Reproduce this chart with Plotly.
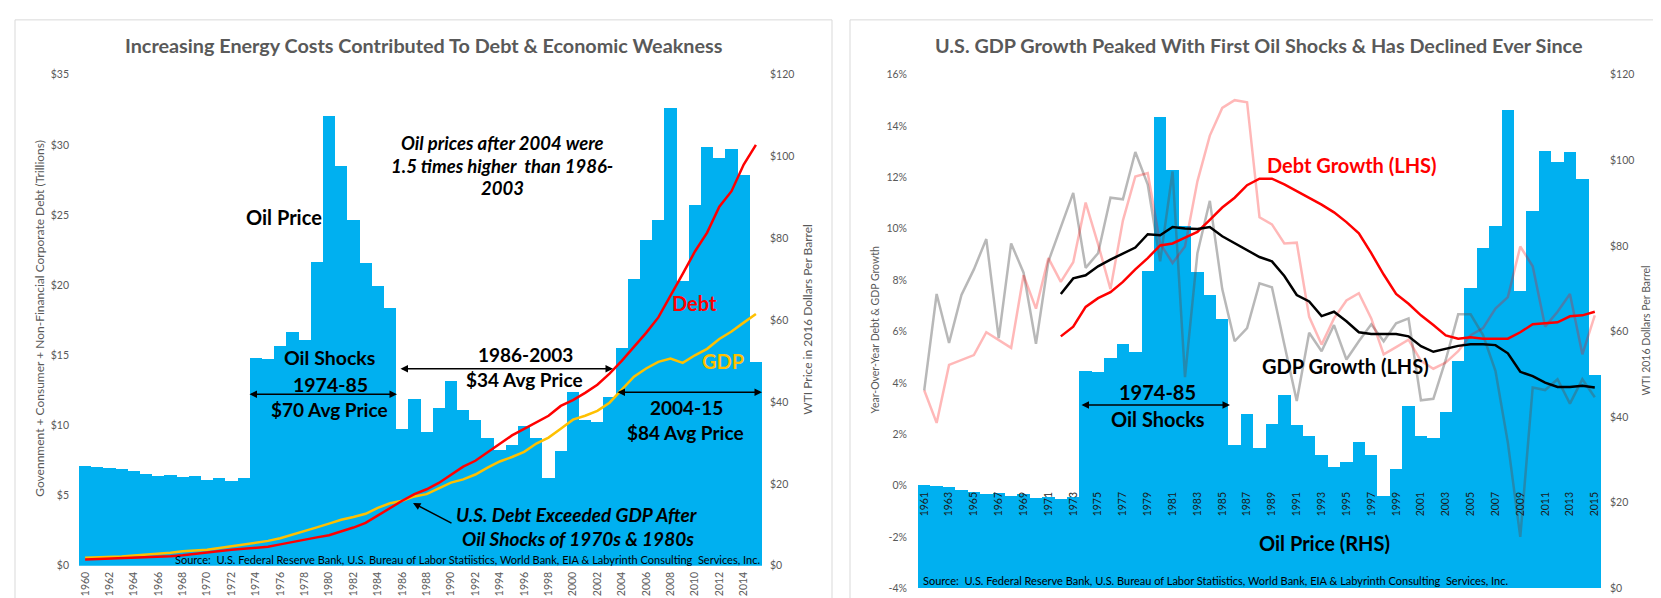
import plotly.graph_objects as go

W, H = 1661, 598

# ---------------- data ----------------
years = list(range(1960, 2016))
oil_price = [24.5, 24.2, 24.0, 23.7, 23.1, 22.5, 22.0, 22.2, 21.7, 22.0,
             21.1, 21.4, 20.8, 21.4, 50.9, 50.5, 53.8, 57.2, 55.3, 74.2,
             110.1, 97.8, 84.6, 74.0, 68.5, 63.0, 33.5, 40.8, 32.8, 38.5,
             45.2, 38.2, 35.7, 31.2, 28.3, 29.5, 34.3, 31.2, 21.6, 28.0,
             42.6, 35.7, 35.2, 41.3, 53.2, 70.2, 79.6, 84.6, 111.9, 69.6,
             88.3, 102.3, 99.6, 101.9, 95.6, 49.8]
debt_trillions = [0.44, 0.47, 0.50, 0.52, 0.54, 0.58, 0.63, 0.68, 0.75, 0.85,
                  0.96, 1.05, 1.14, 1.20, 1.26, 1.35, 1.52, 1.70, 1.87, 2.02,
                  2.17, 2.43, 2.72, 3.05, 3.58, 4.12, 4.63, 5.10, 5.45, 5.90,
                  6.45, 7.06, 7.48, 8.10, 8.71, 9.29, 9.76, 10.22, 10.69, 11.39,
                  11.81, 12.32, 12.90, 13.69, 14.60, 15.60, 16.60, 17.70, 19.20, 20.80,
                  22.40, 23.75, 25.60, 26.70, 28.60, 30.00]
gdp_trillions = [0.56, 0.58, 0.61, 0.66, 0.72, 0.78, 0.84, 0.93, 1.03, 1.08,
                 1.14, 1.26, 1.38, 1.50, 1.61, 1.77, 1.96, 2.20, 2.47, 2.73,
                 3.00, 3.28, 3.47, 3.70, 4.12, 4.45, 4.63, 4.94, 5.10, 5.52,
                 5.92, 6.15, 6.50, 6.99, 7.43, 7.75, 8.12, 8.71, 9.13, 9.76,
                 10.41, 10.69, 11.04, 11.62, 12.55, 13.48, 14.06, 14.53, 14.76, 14.46,
                 15.00, 15.46, 16.16, 16.70, 17.33, 17.95]

growth_years = list(range(1961, 2016))
oil_price_growth_panel = oil_price[1:]
gdp_growth_yoy = [3.71, 7.46, 5.55, 7.42, 8.42, 9.60, 5.74, 9.43, 8.29, 5.52,
                  8.73, 10.07, 11.40, 8.48, 9.05, 11.21, 11.15, 12.99, 11.72, 8.73,
                  12.23, 4.22, 9.05, 11.09, 7.65, 5.62, 6.13, 7.88, 7.72, 5.49,
                  3.29, 5.95, 5.23, 6.25, 4.91, 5.62, 6.28, 5.62, 6.32, 6.51,
                  3.32, 3.38, 4.90, 6.67, 6.67, 5.86, 4.47, 1.67, -2.00, 3.82,
                  3.72, 4.14, 3.19, 4.14, 3.44]
debt_growth_yoy = [3.71, 2.44, 4.70, 4.88, 5.08, 5.97, 5.67, 5.36, 8.19, 6.89,
                   8.86, 7.93, 8.70, 11.02, 9.40, 7.65, 10.32, 12.04, 12.17, 9.43,
                   8.67, 9.31, 11.85, 13.63, 14.71, 15.01, 14.93, 10.45, 10.17, 9.43,
                   9.46, 6.57, 5.49, 6.51, 7.21, 7.49, 6.51, 5.11, 5.39, 5.68,
                   4.86, 4.55, 4.79, 5.23, 5.86, 6.13, 6.89, 7.34, 9.31, 8.54,
                   6.19, 6.77, 7.46, 5.11, 6.63]
smooth_years = list(range(1972, 2016))
debt_growth_avg = [5.81, 6.19, 6.96, 7.30, 7.53, 7.93, 8.42, 8.86, 9.35, 9.43,
                   9.66, 9.88, 10.35, 10.83, 11.21, 11.70, 11.95, 11.95, 11.73, 11.47,
                   11.19, 10.94, 10.64, 10.26, 9.82, 9.05, 8.22, 7.46, 7.08, 6.63,
                   6.25, 5.85, 5.72, 5.78, 5.72, 5.72, 5.72, 5.97, 6.28, 6.32,
                   6.36, 6.59, 6.63, 6.77]
gdp_growth_avg = [7.46, 8.07, 8.19, 8.54, 8.80, 9.03, 9.27, 9.79, 9.75, 10.07,
                  10.01, 9.99, 10.07, 9.71, 9.43, 9.18, 8.90, 8.73, 8.16, 7.42,
                  7.17, 6.60, 6.77, 6.40, 5.97, 5.90, 5.90, 5.90, 5.81, 5.43,
                  5.21, 5.34, 5.44, 5.50, 5.50, 5.47, 5.15, 4.43, 4.26, 4.01,
                  3.84, 3.84, 3.89, 3.82]

left_xticks = list(range(1960, 2015, 2))
right_xticks = list(range(1961, 2016, 2))
debt_ticks = list(range(0, 36, 5))
debt_tick_labels = ["$" + str(v) for v in debt_ticks]
oil_ticks = list(range(0, 121, 20))
oil_tick_labels = ["$" + str(v) for v in oil_ticks]
pct_ticks = list(range(-4, 17, 2))
pct_tick_labels = [str(v) + "%" for v in pct_ticks]

# ---------------- styling ----------------
FONT = "Lato, Carlito, Calibri, sans-serif"
BLUE = "#00B0F0"
GRAY_TXT = "#595959"
SOURCE = ("Source:  U.S. Federal Reserve Bank, U.S. Bureau of Labor Statiistics, "
          "World Bank, EIA &amp; Labyrinth Consulting  Services, Inc.")


def px(x):
    return x / W


def py(y):
    return 1 - y / H


fig = go.Figure()

# Left panel
fig.add_trace(go.Bar(x=years, y=oil_price, width=1, marker=dict(color=BLUE, line=dict(width=0)),
                     xaxis="x", yaxis="y"))
fig.add_trace(go.Scatter(x=years, y=gdp_trillions, mode="lines",
                         line=dict(color="#FFC000", width=2.5), xaxis="x", yaxis="y2"))
fig.add_trace(go.Scatter(x=years, y=debt_trillions, mode="lines",
                         line=dict(color="#FF0000", width=2.5), xaxis="x", yaxis="y2"))

# Right panel
fig.add_trace(go.Bar(x=growth_years, y=oil_price_growth_panel, width=1,
                     marker=dict(color=BLUE, line=dict(width=0)), xaxis="x2", yaxis="y3"))
fig.add_trace(go.Scatter(x=growth_years, y=gdp_growth_yoy, mode="lines",
                         line=dict(color="rgba(85,85,85,0.42)", width=2.5), xaxis="x2", yaxis="y4"))
fig.add_trace(go.Scatter(x=growth_years, y=debt_growth_yoy, mode="lines",
                         line=dict(color="rgba(255,0,0,0.28)", width=2.5), xaxis="x2", yaxis="y4"))
fig.add_trace(go.Scatter(x=smooth_years, y=debt_growth_avg, mode="lines",
                         line=dict(color="#FF0000", width=2.5), xaxis="x2", yaxis="y4"))
fig.add_trace(go.Scatter(x=smooth_years, y=gdp_growth_avg, mode="lines",
                         line=dict(color="#000000", width=2.5), xaxis="x2", yaxis="y4"))

tickfont = dict(family=FONT, size=10.5, color=GRAY_TXT)
common = dict(showgrid=False, zeroline=False, showline=False, ticks="")

fig.update_layout(
    width=W, height=H, autosize=False,
    margin=dict(l=0, r=0, t=0, b=0),
    paper_bgcolor="white", plot_bgcolor="rgba(0,0,0,0)",
    showlegend=False, bargap=0,
    font=dict(family=FONT),
    xaxis=dict(domain=[px(71), px(754)], range=[1959.5, 2015.5], anchor="y",
               tickmode="array", tickvals=left_xticks, tickangle=-90,
               ticklabelstandoff=3, tickfont=dict(family=FONT, size=10.5, color=GRAY_TXT), **common),
    yaxis=dict(domain=[py(563), py(62)], range=[0, 120], side="right", anchor="x",
               tickmode="array", tickvals=oil_ticks, ticktext=oil_tick_labels,
               ticklabelstandoff=7, tickfont=tickfont, **common),
    yaxis2=dict(overlaying="y", range=[0, 35], side="left", anchor="x",
                tickmode="array", tickvals=debt_ticks, ticktext=debt_tick_labels,
                ticklabelstandoff=9, tickfont=tickfont, **common),
    xaxis2=dict(domain=[px(910), px(1593)], range=[1960.5, 2015.5], anchor="free",
                position=py(480.5), tickmode="array", tickvals=right_xticks, tickangle=-90,
                ticklabelstandoff=4, tickfont=dict(family=FONT, size=10.5, color="#1a1a1a"), **common),
    yaxis3=dict(domain=[py(586), py(62)], range=[0, 120], side="right", anchor="x2",
                tickmode="array", tickvals=oil_ticks, ticktext=oil_tick_labels,
                ticklabelstandoff=8, tickfont=tickfont, **common),
    yaxis4=dict(overlaying="y3", range=[-4, 16], side="left", anchor="x2",
                tickmode="array", tickvals=pct_ticks, ticktext=pct_tick_labels,
                ticklabelstandoff=10, tickfont=tickfont, **common),
)

ann = []


def txt(x, y, s, size, color="black", bold=True, italic=False, xanchor="center", angle=0):
    t = s
    if italic:
        t = "<i>" + t + "</i>"
    if bold:
        t = "<b>" + t + "</b>"
    ann.append(dict(x=px(x), y=py(y), xref="paper", yref="paper", text=t, showarrow=False,
                    xanchor=xanchor, yanchor="middle", textangle=angle,
                    font=dict(family=FONT, size=size, color=color)))


def arrow(x0, y0, x1, y1, both=True):
    ann.append(dict(x=px(x1), y=py(y1), xref="paper", yref="paper", text="",
                    showarrow=True, axref="pixel", ayref="pixel", ax=x0 - x1, ay=y0 - y1,
                    arrowhead=2, startarrowhead=2, arrowsize=1, startarrowsize=1,
                    arrowwidth=1.5, arrowcolor="black", standoff=0, startstandoff=0,
                    arrowside="end+start" if both else "end"))


# Titles
txt(416, 32, "Increasing Energy Costs Contributed To Debt &amp; Economic Weakness", 19.8, GRAY_TXT)
txt(1251, 32, "U.S. GDP Growth Peaked With First Oil Shocks &amp; Has Declined Ever Since", 19.8, GRAY_TXT)

# Axis titles
txt(32, 311, "Govennment + Consumer + Non-Financial Corporate Debt (Trillions)", 12, GRAY_TXT,
    bold=False, angle=-90)
txt(800, 312, "WTI Price in 2016 Dollars Per Barrel", 12, GRAY_TXT, bold=False, angle=-90)
txt(867, 323, "Year-Over-Year Debt &amp; GDP Growth", 10.5, GRAY_TXT, bold=False, angle=-90)
txt(1638, 323, "WTI 2016 Dollars Per Barrel", 10.5, GRAY_TXT, bold=False, angle=-90)

# Left panel labels
txt(276, 207, "Oil Price", 20)
txt(494, 132, "Oil prices after 2004 were", 18.5, italic=True)
txt(494, 155, "1.5 times higher  than 1986-", 18.5, italic=True)
txt(494, 178, "2003", 18.5, italic=True)
txt(686, 295, "Debt", 20, "#FF0000")
txt(715, 354, "GDP", 20, "#FFC000")
txt(321, 351, "Oil Shocks", 19.5)
txt(322, 378, "1974-85", 19.5)
txt(321, 404, "$70 Avg Price", 19)
txt(517, 347, "1986-2003", 19)
txt(516, 373, "$34 Avg Price", 19)
txt(678, 402, "2004-15", 19)
txt(677, 427, "$84 Avg Price", 19)
txt(569, 511, "U.S. Debt Exceeded GDP After", 19, italic=True)
txt(570, 535, "Oil Shocks of 1970s &amp; 1980s", 19, italic=True)
txt(754, 557, SOURCE, 11, bold=False, xanchor="right")
arrow(240, 388, 389, 388)
arrow(391, 362, 605, 362)
arrow(608, 386, 754, 386)
arrow(445, 520, 405, 499, both=False)

# Right panel labels
txt(1344, 154, "Debt Growth (LHS)", 20, "#FF0000")
txt(1337, 359, "GDP Growth (LHS)", 20)
txt(1316, 540, "Oil Price (RHS)", 20)
txt(1149, 386, "1974-85", 20)
txt(1150, 413, "Oil Shocks", 20)
txt(913, 578, SOURCE, 11, bold=False, xanchor="left")
arrow(1072, 399, 1222, 399)

fig.update_layout(annotations=ann)

# Panel borders
shapes = [
    dict(type="rect", xref="paper", yref="paper", x0=px(7), x1=px(824), y0=py(640), y1=py(6),
         line=dict(color="#D9D9D9", width=1), fillcolor="rgba(0,0,0,0)", layer="below"),
    dict(type="rect", xref="paper", yref="paper", x0=px(842), x1=px(1659), y0=py(640), y1=py(6),
         line=dict(color="#D9D9D9", width=1), fillcolor="rgba(0,0,0,0)", layer="below"),
]
fig.update_layout(shapes=shapes)

fig.write_html("out.html")
